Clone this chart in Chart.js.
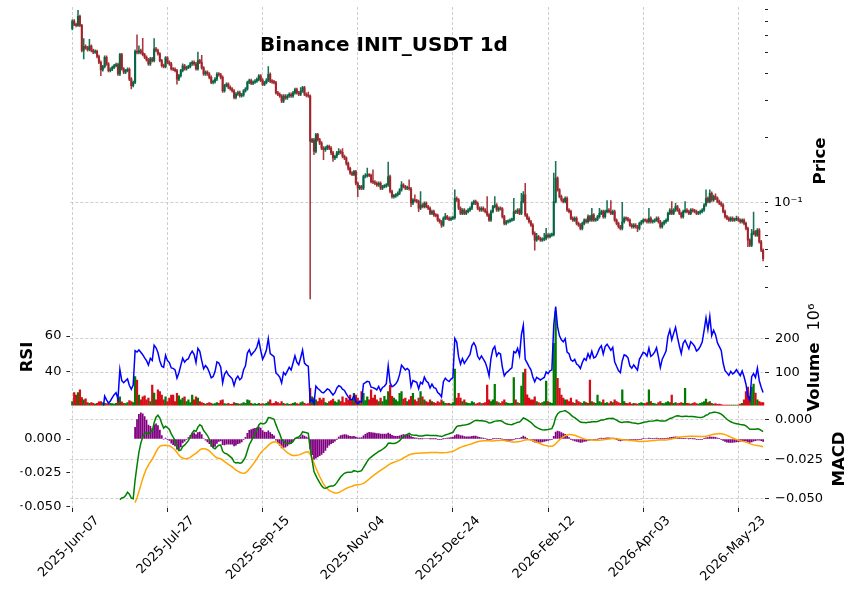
<!DOCTYPE html>
<html>
<head>
<meta charset="utf-8">
<title>Binance INIT_USDT 1d</title>
<script src="https://cdn.jsdelivr.net/npm/chart.js@4.4.1/dist/chart.umd.min.js"></script>
<style>
  html, body { margin: 0; padding: 0; background: #fff; }
  #wrap { position: relative; width: 859px; height: 600px; }
  #wrap canvas { position: absolute; left: 0; top: 0; }
</style>
</head>
<body>
<div id="wrap">
  <canvas id="price" width="859" height="600"></canvas>
  <canvas id="mid" width="859" height="600"></canvas>
  <canvas id="macd" width="859" height="600"></canvas>
</div>
<script>
// ---- data ----
const titleText = 'Binance INIT_USDT 1d';
const dateLabels = ['2025-Jun-07', '2025-Jul-27', '2025-Sep-15', '2025-Nov-04',
                    '2025-Dec-24', '2026-Feb-12', '2026-Apr-03', '2026-May-23'];
const dateTickIdx = [0, 50, 100, 150, 200, 250, 300, 350];

const firstOpen = 0.649;
const closes = [
  0.705,0.680,0.673,0.742,0.673,0.513,0.536,0.528,0.517,0.538,
  0.513,0.504,0.509,0.481,0.452,0.416,0.431,0.477,0.444,0.413,
  0.419,0.428,0.436,0.441,0.398,0.491,0.421,0.406,0.413,0.419,
  0.377,0.351,0.364,0.509,0.502,0.513,0.502,0.491,0.477,0.464,
  0.444,0.469,0.460,0.523,0.513,0.495,0.460,0.436,0.431,0.474,
  0.452,0.444,0.421,0.419,0.413,0.377,0.391,0.413,0.435,0.421,
  0.428,0.431,0.444,0.452,0.444,0.421,0.460,0.452,0.425,0.398,
  0.406,0.398,0.384,0.364,0.367,0.377,0.398,0.395,0.384,0.332,
  0.351,0.357,0.345,0.339,0.332,0.309,0.321,0.326,0.315,0.318,
  0.332,0.339,0.364,0.371,0.360,0.365,0.369,0.376,0.390,0.373,
  0.356,0.363,0.373,0.397,0.369,0.366,0.363,0.325,0.320,0.314,
  0.297,0.314,0.308,0.314,0.320,0.314,0.325,0.337,0.325,0.320,
  0.331,0.344,0.320,0.316,0.314,0.1926,0.196,0.173,0.207,0.196,
  0.189,0.179,0.176,0.179,0.1825,0.179,0.170,0.161,0.164,0.170,
  0.173,0.171,0.164,0.161,0.152,0.144,0.137,0.135,0.139,0.1226,
  0.1161,0.1183,0.1161,0.1319,0.1330,0.1342,0.1335,0.1248,0.1240,0.1226,
  0.1204,0.1226,0.1161,0.1183,0.1190,0.1204,0.1319,0.1121,0.1062,0.1070,
  0.1081,0.1101,0.1141,0.1204,0.1183,0.1161,0.1170,0.1155,0.0988,0.1024,
  0.1015,0.1006,0.0936,0.0970,0.0953,0.0988,0.0953,0.0936,0.0886,0.0903,
  0.0871,0.0865,0.0824,0.0809,0.0781,0.0840,0.0855,0.0840,0.0831,0.0840,
  0.0845,0.1043,0.1024,0.0936,0.0886,0.0919,0.0886,0.0903,0.0919,0.0936,
  0.0988,0.1006,0.0988,0.0936,0.0919,0.0936,0.0919,0.0903,0.0871,0.0824,
  0.0903,0.0953,0.0970,0.0919,0.0936,0.0930,0.0855,0.0795,0.0809,0.0815,
  0.0824,0.0830,0.0903,0.0897,0.0919,0.0886,0.1006,0.1081,0.0871,0.0840,
  0.0809,0.0781,0.0714,0.0664,0.0689,0.0676,0.0664,0.0670,0.0676,0.0701,
  0.0689,0.0701,0.0705,0.1006,0.1295,0.1141,0.1062,0.1024,0.1006,0.1043,
  0.0919,0.0903,0.0840,0.0824,0.0840,0.0795,0.0781,0.0753,0.0795,0.0824,
  0.0809,0.0855,0.0824,0.0871,0.0824,0.0830,0.0855,0.0886,0.0903,0.0855,
  0.0903,0.0919,0.0903,0.0886,0.0903,0.0824,0.0795,0.0767,0.0753,0.0809,
  0.0840,0.0835,0.0824,0.0781,0.0767,0.0781,0.0767,0.0753,0.0795,0.0809,
  0.0824,0.0820,0.0809,0.0840,0.0809,0.0815,0.0824,0.0840,0.0809,0.0767,
  0.0795,0.0809,0.0824,0.0886,0.0919,0.0886,0.0919,0.0953,0.0919,0.0886,
  0.0855,0.0903,0.0919,0.0903,0.0886,0.0919,0.0912,0.0903,0.0886,0.0892,
  0.0903,0.0919,0.0970,0.1043,0.1006,0.1101,0.1024,0.1062,0.1043,0.1006,
  0.0988,0.0970,0.0903,0.0855,0.0840,0.0824,0.0840,0.0824,0.0830,0.0840,
  0.0824,0.0809,0.0824,0.0795,0.0753,0.0664,0.0629,0.0714,0.0727,0.0701,
  0.0740,0.0652,0.0595,0.0544
];
const highs = [
  .715,.716,.690,.792,.752,.680,.583,.545,.536,.578,
  .546,.521,.517,.516,.488,.459,.437,.484,.484,.450,
  .425,.434,.442,.448,.448,.498,.498,.427,.419,.425,
  .425,.383,.369,.517,.608,.540,.521,.585,.498,.484,
  .471,.476,.476,.583,.531,.521,.502,.467,.443,.481,
  .481,.459,.451,.427,.425,.419,.397,.419,.444,.442,
  .434,.437,.451,.459,.459,.451,.504,.467,.487,.431,
  .412,.412,.404,.390,.373,.383,.404,.404,.401,.390,
  .356,.362,.362,.350,.344,.337,.326,.331,.331,.323,
  .337,.344,.369,.377,.377,.370,.375,.382,.396,.396,
  .379,.368,.379,.431,.403,.375,.372,.368,.330,.325,
  .319,.319,.319,.319,.325,.325,.330,.342,.342,.330,
  .344,.349,.349,.325,.328,.318,.199,.199,.210,.210,
  .199,.192,.182,.182,.185,.185,.182,.173,.166,.173,
  .178,.176,.178,.166,.163,.154,.146,.139,.141,.141,
  .1245,.1200,.1200,.1340,.1360,.1443,.1362,.1355,.1417,.1260,
  .1245,.1245,.1245,.1200,.1208,.1222,.154,.1340,.1138,.1088,
  .1098,.1118,.1158,.1248,.1222,.1200,.1188,.1271,.1172,.1040,
  .1081,.1030,.1021,.1121,.0985,.1003,.1003,.0967,.0950,.0917,
  .0917,.0884,.0878,.0836,.0821,.0853,.0886,.0868,.0853,.0853,
  .0860,.1141,.1059,.1039,.0950,.0933,.0933,.0917,.0933,.0950,
  .1003,.1021,.1021,.1003,.0950,.0950,.0950,.0933,.1062,.0884,
  .0917,.0967,.1062,.0985,.0950,.0950,.0944,.0868,.0821,.0827,
  .0836,.0842,.1043,.0917,.0933,.0933,.1101,.1120,.1226,.0884,
  .0853,.0821,.0793,.0725,.0714,.0699,.0686,.0680,.0714,.0753,
  .0712,.0712,.0716,.1367,.1551,.1315,.1158,.1078,.1039,.1059,
  .1059,.0933,.0917,.0853,.0853,.0853,.0807,.0793,.0807,.0836,
  .0836,.0871,.0868,.0936,.0884,.0842,.0868,.0936,.0917,.0917,
  .0917,.1017,.0933,.1017,.0917,.0917,.0836,.0807,.0779,.0999,
  .0853,.0853,.0848,.0836,.0793,.0793,.0793,.0779,.0807,.0821,
  .0836,.0836,.0832,.0936,.0853,.0827,.0836,.0853,.0853,.0821,
  .0807,.0821,.0836,.0899,.0933,.1006,.0933,.0988,.0967,.0933,
  .0899,.0917,.1006,.0933,.0917,.0933,.0933,.0926,.0917,.0905,
  .0917,.0933,.0985,.1141,.1059,.1141,.1118,.1078,.1094,.1059,
  .1021,.1003,.0985,.0917,.0868,.0853,.0853,.0853,.0842,.0861,
  .0853,.0836,.0836,.0836,.0807,.0764,.0674,.0745,.0899,.0738,
  .0751,.0751,.0662,.0604
];
const lows = [
  .640,.670,.662,.665,.663,.505,.469,.520,.509,.510,
  .505,.496,.497,.474,.445,.391,.410,.425,.437,.407,
  .407,.413,.422,.430,.392,.391,.415,.400,.400,.407,
  .371,.339,.346,.359,.495,.495,.495,.484,.470,.457,
  .437,.437,.453,.453,.505,.488,.453,.429,.425,.425,
  .445,.437,.415,.413,.407,.357,.371,.385,.407,.415,
  .415,.422,.425,.437,.437,.415,.415,.445,.419,.392,
  .392,.392,.378,.359,.358,.361,.371,.389,.378,.326,
  .327,.346,.340,.334,.327,.304,.304,.316,.310,.310,
  .313,.327,.334,.359,.355,.355,.360,.364,.370,.367,
  .351,.351,.358,.367,.363,.360,.358,.320,.315,.309,
  .292,.292,.303,.303,.309,.309,.309,.320,.320,.315,
  .315,.326,.315,.311,.309,.0352,.190,.1667,.170,.193,
  .186,.176,.158,.173,.176,.176,.167,.1551,.158,.161,
  .167,.168,.161,.158,.149,.141,.135,.133,.133,.1205,
  .1062,.1143,.1143,.1143,.1300,.1310,.1315,.1230,.1220,.1208,
  .1185,.1185,.1143,.1143,.1165,.1172,.1185,.1105,.1045,.1045,
  .1053,.1065,.1085,.1124,.1165,.1143,.1143,.1138,.0953,.0973,
  .1000,.0991,.0903,.0922,.0939,.0939,.0939,.0922,.0873,.0873,
  .0858,.0852,.0812,.0797,.0762,.0769,.0827,.0827,.0819,.0819,
  .0827,.0832,.1009,.0922,.0873,.0873,.0873,.0873,.0889,.0905,
  .0922,.0973,.0973,.0922,.0905,.0905,.0905,.0889,.0858,.0812,
  .0812,.0889,.0939,.0905,.0905,.0916,.0842,.0783,.0783,.0797,
  .0803,.0812,.0818,.0884,.0884,.0873,.0873,.0991,.0858,.0827,
  .0797,.0769,.0703,.0595,.0654,.0666,.0654,.0654,.0660,.0666,
  .0679,.0679,.0690,.0694,.0991,.1124,.1046,.1009,.0991,.0991,
  .0905,.0889,.0827,.0812,.0812,.0783,.0769,.0742,.0742,.0783,
  .0797,.0797,.0812,.0812,.0812,.0812,.0818,.0842,.0873,.0842,
  .0842,.0889,.0889,.0873,.0873,.0812,.0783,.0755,.0742,.0742,
  .0797,.0822,.0812,.0769,.0755,.0755,.0755,.0727,.0742,.0783,
  .0797,.0808,.0797,.0797,.0797,.0797,.0803,.0812,.0797,.0755,
  .0755,.0783,.0797,.0812,.0873,.0873,.0873,.0905,.0905,.0873,
  .0842,.0842,.0889,.0889,.0873,.0873,.0898,.0889,.0873,.0873,
  .0879,.0889,.0905,.0955,.0991,.0991,.1009,.1009,.1027,.0991,
  .0973,.0955,.0889,.0842,.0827,.0812,.0812,.0812,.0812,.0818,
  .0812,.0797,.0797,.0783,.0742,.0618,.0619,.0619,.0703,.0690,
  .0690,.0642,.0586,.0530
];
// volume in millions
const volumes = [
  15,41,34,41,49,27,20,23,12,10,
  12,10,8,10,14,15,12,10,9,11,
  10,9,8,10,25,29,14,10,9,12,
  18,15,12,88,78,34,20,29,32,20,
  25,15,63,40,20,49,44,34,20,29,
  15,25,34,34,15,39,32,20,25,29,
  15,20,12,34,20,29,25,15,12,10,
  8,10,12,10,8,9,12,10,18,20,
  9,8,10,7,8,12,10,9,8,9,
  12,10,20,18,10,8,9,7,10,8,
  9,8,10,14,20,9,10,15,12,9,
  15,10,8,9,7,8,10,12,9,8,
  12,14,10,8,9,54,29,25,20,15,
  25,20,25,12,10,15,18,22,15,12,
  20,15,29,12,25,20,34,18,39,34,
  25,15,44,39,18,29,20,49,25,34,
  20,15,25,15,30,20,44,63,30,25,
  20,15,39,44,22,25,15,20,30,39,
  20,15,25,44,29,20,15,12,20,15,
  12,10,15,12,20,15,10,9,10,8,
  12,110,25,39,25,15,20,12,10,9,
  15,12,8,10,12,9,10,12,63,20,
  15,20,65,15,12,10,15,20,12,10,
  9,10,85,20,12,10,60,100,110,35,
  25,20,20,29,15,12,10,12,15,75,
  15,12,10,185,278,83,54,34,25,20,
  20,15,25,12,10,20,15,12,10,15,
  12,10,78,15,12,10,34,15,12,20,
  10,12,9,15,12,20,15,12,10,49,
  15,10,9,12,8,10,9,8,10,12,
  10,9,12,49,15,10,9,8,12,15,
  10,9,12,15,12,34,10,12,9,10,
  12,10,54,10,9,8,10,12,9,8,
  10,12,15,22,12,15,10,8,9,7,
  8,6,4.5,4.5,4.5,4.5,4.5,4.5,4.5,4.5,
  4.5,8,10,20,44,57,30,57,66,40,
  20,15,12,12
];

// ---- derived: opens, indicators (same maths as the source plot) ----
const opens = closes.map((c, i) => i === 0 ? firstOpen : closes[i - 1]);
const isUp = closes.map((c, i) => c >= opens[i]);

// exponential mean, pandas ewm(adjust=False, min_periods) style; nulls at the start are skipped
function ewm(vals, alpha, minPeriods) {
    let e = null, cnt = 0;
    return vals.map(v => {
        if (v === null) return null;
        e = e === null ? v : alpha * v + (1 - alpha) * e;
        cnt++;
        return cnt >= minPeriods ? e : null;
    });
}

// Wilder RSI
function rsiOf(vals, n) {
    const gains = vals.map((v, i) => i === 0 ? null : Math.max(v - vals[i - 1], 0));
    const losses = vals.map((v, i) => i === 0 ? null : Math.max(vals[i - 1] - v, 0));
    const ag = ewm(gains, 1 / n, n), al = ewm(losses, 1 / n, n);
    return ag.map((g, i) => g === null ? null : (al[i] === 0 ? 100 : 100 - 100 / (1 + g / al[i])));
}

const span = s => 2 / (s + 1);
const rsi = rsiOf(closes, 14);
const ema12 = ewm(closes, span(12), 12);
const ema26 = ewm(closes, span(26), 26);
const macd = closes.map((c, i) => (ema12[i] === null || ema26[i] === null) ? null : ema12[i] - ema26[i]);
const signal = ewm(macd, span(9), 9);
const hist = macd.map((m, i) => (m === null || signal[i] === null) ? null : m - signal[i]);

// ---- look ----
Chart.defaults.font.family = '"DejaVu Sans", sans-serif';
Chart.defaults.color = '#000';

const GRID = '#c2c2c2';
const DASH = [3, 2];
const UP = 'rgba(0,99,64,0.9)', DOWN = 'rgba(160,33,40,0.9)';
const VUP = '#007a00', VDOWN = '#d50d18';
const candleColors = isUp.map(u => u ? UP : DOWN);
const volColors = isUp.map(u => u ? VUP : VDOWN);

const LEFT = 70.4, RIGHT = 765;
const P_TOP = 7, P_BOT = 303, M1_BOT = 405.5, M2_BOT = 508;
const LW = 50, RW = 60, XH = 80;

function noPad(s) { s.paddingTop = 0; s.paddingBottom = 0; s.paddingLeft = 0; s.paddingRight = 0; }

function xAxis(showLabels) {
    return {
        type: 'linear', min: -1, max: 364, offset: false,
        afterBuildTicks: s => { s.ticks = dateTickIdx.map(v => ({ value: v })); },
        grid: { display: true, offset: false, color: GRID, lineWidth: 0.8,
                drawTicks: showLabels, tickLength: 4, tickColor: '#222', tickWidth: 1 },
        border: { display: false, dash: DASH },
        ticks: showLabels ? {
            display: true, autoSkip: false, minRotation: 45, maxRotation: 45,
            padding: 1, labelOffset: 25, font: { size: 13 }, color: '#000',
            callback: (v, i) => dateLabels[i]
        } : { display: false },
        afterFit: s => { s.height = showLabels ? XH : 0; noPad(s); }
    };
}

function yAxis(pos, o) {
    return Object.assign({
        position: pos,
        border: { display: false, dash: DASH },
        afterFit: s => { s.width = pos === 'left' ? LW : RW; noPad(s); }
    }, o);
}

function fixedTicks(list) {
    return s => { s.ticks = list.map(v => ({ value: v })); };
}

const base = {
    responsive: false, animation: false, events: [],
    plugins: { legend: { display: false }, tooltip: { enabled: false } }
};

// ---- price panel ----
const priceTicks = [0.04,0.05,0.06,0.07,0.08,0.09,0.1,0.2,0.3,0.4,0.5,0.6,0.7,0.8];
new Chart(document.getElementById('price'), {
    type: 'bar',
    data: {
        datasets: [{
            data: closes.map((c, i) => ({ x: i, y: [lows[i], highs[i]] })),
            backgroundColor: candleColors, barThickness: 0.9, grouped: false, order: 2, borderWidth: 0
        }, {
            data: closes.map((c, i) => ({ x: i, y: [opens[i], c] })),
            backgroundColor: candleColors, barThickness: 1.5, grouped: false, order: 1,
            borderWidth: 0, minBarLength: 1
        }]
    },
    options: Object.assign({}, base, {
        layout: { padding: { left: LEFT, right: 859 - RIGHT - RW, top: P_TOP, bottom: 600 - P_BOT } },
        scales: {
            x: xAxis(false),
            y: yAxis('right', {
                type: 'logarithmic', min: 0.0337, max: 0.82,
                afterBuildTicks: fixedTicks(priceTicks),
                ticks: { autoSkip: false, padding: 6, font: { size: 13 }, color: '#000',
                         callback: v => v === 0.1 ? '10\u207B\u00B9' : '' },
                grid: { color: c => (c.tick && c.tick.value === 0.1) ? GRID : 'rgba(0,0,0,0)',
                        lineWidth: 0.8, tickColor: '#222', tickLength: 3, tickWidth: 1 }
            })
        }
    })
});

// ---- RSI + volume panel ----
new Chart(document.getElementById('mid'), {
    type: 'bar',
    data: {
        datasets: [{
            type: 'line', yAxisID: 'rsi', order: 0,
            data: rsi.map((v, i) => ({ x: i, y: v })),
            borderColor: '#0000ff', borderWidth: 1.5, pointRadius: 0, tension: 0, spanGaps: false
        }, {
            yAxisID: 'vol', order: 1,
            data: volumes.map((v, i) => ({ x: i, y: v })),
            backgroundColor: volColors, barThickness: 1.6, grouped: false, borderWidth: 0
        }]
    },
    options: Object.assign({}, base, {
        layout: { padding: { left: LEFT - LW, right: 859 - RIGHT - RW, top: P_BOT, bottom: 600 - M1_BOT } },
        scales: {
            x: xAxis(false),
            rsi: yAxis('left', {
                type: 'linear', min: 21.1, max: 78.5,
                afterBuildTicks: fixedTicks([40, 60]),
                ticks: { padding: 5, font: { size: 13 }, color: '#000' },
                grid: { drawOnChartArea: false, tickColor: '#222', tickLength: 4, tickWidth: 1 }
            }),
            vol: yAxis('right', {
                type: 'linear', min: 3.5, max: 303,
                afterBuildTicks: fixedTicks([100, 200]),
                ticks: { padding: 6, font: { size: 13 }, color: '#000' },
                grid: { color: GRID, lineWidth: 0.8, tickColor: '#222', tickLength: 4, tickWidth: 1 }
            })
        }
    })
});

// ---- MACD panel (+ all free text) ----
const fmt = v => (v < 0 ? '\u2212' : '') + Math.abs(v).toFixed(3);
const panelText = {
    id: 'panelText',
    afterDraw(chart) {
        const ctx = chart.ctx;
        ctx.save();
        ctx.fillStyle = '#000';
        ctx.textAlign = 'center';
        ctx.textBaseline = 'middle';
        ctx.font = 'bold 20px "DejaVu Sans"';
        ctx.fillText(titleText, 384, 46);
        const vtext = (t, x, y, font) => {
            ctx.save();
            ctx.translate(x, y);
            ctx.rotate(-Math.PI / 2);
            ctx.font = font;
            ctx.fillText(t, 0, 0);
            ctx.restore();
        };
        const B = 'bold 16.5px "DejaVu Sans"';
        vtext('Price', 821, 161, B);
        vtext('RSI', 28, 357, B);
        vtext('Volume', 815, 377, B);
        vtext('10\u2076', 815, 317, '16px "DejaVu Sans"');
        vtext('MACD', 840, 459, B);
        ctx.restore();
    }
};

new Chart(document.getElementById('macd'), {
    type: 'bar',
    data: {
        datasets: [{
            type: 'line', yAxisID: 'm', order: 0,
            data: macd.map((v, i) => ({ x: i, y: v })),
            borderColor: '#008000', borderWidth: 1.5, pointRadius: 0, tension: 0
        }, {
            type: 'line', yAxisID: 'h', order: 1,
            data: signal.map((v, i) => ({ x: i, y: v })),
            borderColor: '#ffa500', borderWidth: 1.5, pointRadius: 0, tension: 0
        }, {
            yAxisID: 'h', order: 2,
            data: hist.map((v, i) => ({ x: i, y: v })),
            backgroundColor: '#800080', barThickness: 1.1, grouped: false, borderWidth: 0
        }]
    },
    options: Object.assign({}, base, {
        layout: { padding: { left: LEFT - LW, right: 859 - RIGHT - RW, top: M1_BOT, bottom: 600 - M2_BOT - XH } },
        scales: {
            x: xAxis(true),
            h: yAxis('left', {
                type: 'linear', min: -0.0510, max: 0.0248,
                afterBuildTicks: fixedTicks([-0.05, -0.025, 0]),
                ticks: { padding: 5, font: { size: 13 }, color: '#000', callback: fmt },
                grid: { drawOnChartArea: false, tickColor: '#222', tickLength: 4, tickWidth: 1 }
            }),
            m: yAxis('right', {
                type: 'linear', min: -0.0561, max: 0.0092,
                afterBuildTicks: fixedTicks([-0.05, -0.025, 0]),
                ticks: { padding: 6, font: { size: 13 }, color: '#000', callback: fmt },
                grid: { color: GRID, lineWidth: 0.8, tickColor: '#222', tickLength: 4, tickWidth: 1 }
            })
        }
    }),
    plugins: [panelText]
});
</script>
</body>
</html>
